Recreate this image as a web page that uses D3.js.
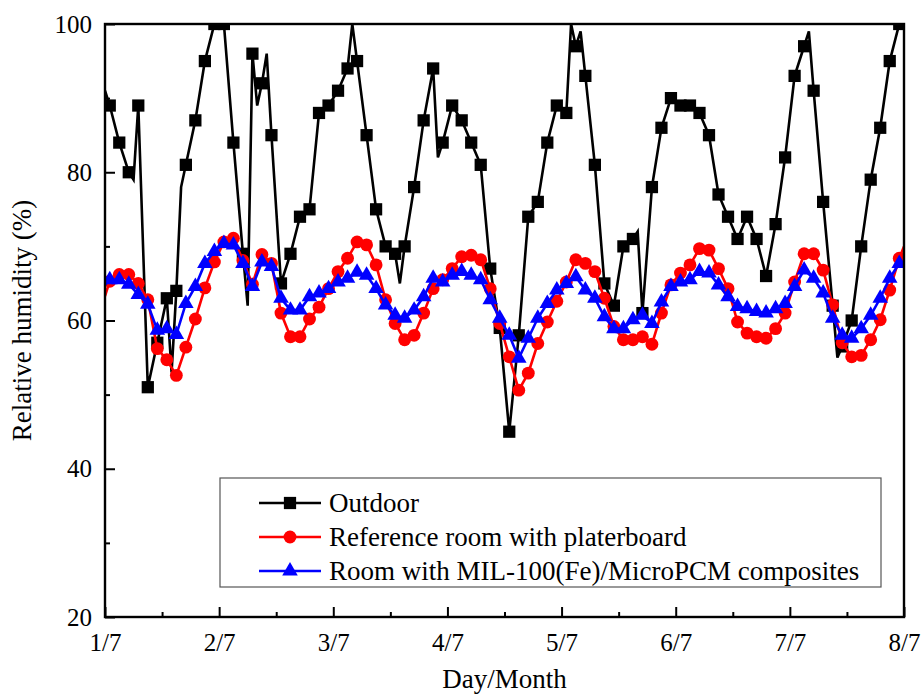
<!DOCTYPE html>
<html lang="en">
<head>
<meta charset="UTF-8">
<title>Relative humidity</title>
<script src="https://d3js.org/d3.v7.min.js"></script>
<style>
    body { margin: 0; background: #fff; }
    text { font-family: "Liberation Serif", "Times New Roman", serif; fill: #000; }
</style>
</head>
<body>
<svg id="main" width="921" height="695"></svg>
<script>
// x tick labels (one per day) and y ticks
let dayLabels = ['1/7', '2/7', '3/7', '4/7', '5/7', '6/7', '7/7', '8/7'];
let yMajor = [20, 40, 60, 80, 100];
let yMinor = [30, 50, 70, 90];

// readings every 2 h, at 1:00, 3:00, ... 23:00 of each day (12 per row)
let outdoorRH = [
    89, 84, 80, 89, 51, 57, 63, 64, 81, 87, 95, 100,
    100, 84, 69, 96, 92, 85, 65, 69, 74, 75, 88, 89,
    91, 94, 95, 85, 75, 70, 69, 70, 78, 87, 94, 84,
    89, 87, 84, 81, 67, 59, 45, 58, 74, 76, 84, 89,
    88, 97, 93, 81, 65, 62, 70, 71, 61, 78, 86, 90,
    89, 89, 88, 85, 77, 74, 71, 74, 71, 66, 73, 82,
    93, 97, 91, 76, 62, 56.5, 60, 70, 79, 86, 95, 100
];
let referenceRH = [
    65.3, 66.2, 66.2, 65, 62.8, 56.2, 54.7, 52.6, 56.4, 60.2, 64.4, 67.9,
    70.6, 71.1, 68.1, 64.9, 68.9, 67.7, 61, 57.8, 57.8, 60.2, 61.8, 64.3,
    66.6, 68.4, 70.6, 70.2, 67.5, 62.8, 59.6, 57.4, 58, 61, 64.3, 65.5,
    67, 68.6, 68.8, 68.2, 64.3, 59.6, 55.1, 50.6, 52.9, 56.9, 59.8, 62.6,
    65.2, 68.2, 67.7, 66.6, 63, 59.2, 57.4, 57.4, 57.8, 56.8, 61, 64.8,
    66.4, 67.5, 69.7, 69.5, 67, 64.3, 59.8, 58.3, 57.8, 57.6, 58.9, 61,
    65.2, 69, 69, 66.8, 62.1, 57, 55.1, 55.3, 57.4, 60.1, 64.1, 68.4
];
let compositeRH = [
    65.5, 65.5, 64.9, 63.5, 62.2, 58.7, 58.9, 58.1, 62.3, 64.6, 67.7, 69.3,
    70.4, 70.2, 67.7, 64.6, 67.9, 67.3, 63, 61.4, 61.4, 63.2, 63.7, 64.3,
    65.2, 65.7, 66.5, 66.1, 64.3, 62.1, 60.7, 60.3, 61.4, 63.2, 65.7, 65.2,
    66.1, 66.6, 66.1, 65.5, 62.8, 60.3, 58, 54.9, 57.6, 60.3, 62.3, 64.1,
    65, 65.9, 64.1, 63, 60.5, 58.9, 58.9, 60.1, 60.7, 59.6, 62.5, 64.6,
    65.2, 65.5, 66.6, 66.4, 64.8, 63.2, 61.9, 61.6, 61.2, 61, 61.6, 62.3,
    64.6, 66.8, 65.7, 63.7, 60.3, 58, 57.6, 58.9, 60.7, 63, 65.7, 67.7
];
// in-between readings (hour, value) that the lines pass through without a marker
let outdoorExtra = [[0, 91], [6, 79], [14, 53], [16, 78], [24, 100], [30, 62], [32, 89], [34, 96],
    [52, 100], [62, 65], [70, 82], [98, 100], [100, 99], [112, 72], [148, 99], [154, 55], [168, 100]];
let referenceExtra = [[0, 63.3], [168, 70]];
let compositeExtra = [[0, 64.8], [168, 67.7]];

let markerHours = d3.range(1, 168, 2);

let series = [
    {name: 'Outdoor', color: '#000000', shape: 'square', values: outdoorRH, extra: outdoorExtra},
    {name: 'Reference room with platerboard', color: '#ff0000', shape: 'circle', values: referenceRH, extra: referenceExtra},
    {name: 'Room with MIL-100(Fe)/MicroPCM composites', color: '#0000ff', shape: 'triangle', values: compositeRH, extra: compositeExtra}
];

let svg = d3.select('svg#main');
let plot = {left: 105, right: 904, top: 24, bottom: 617};

let xScale = d3.scaleLinear().domain([0, 168]).range([plot.left, plot.right]);
let yScale = d3.scaleLinear().domain([20, 100]).range([plot.bottom, plot.top]);

svg.append('defs').append('clipPath').attr('id', 'clip')
    .append('rect')
    .attr('x', plot.left).attr('y', plot.top)
    .attr('width', plot.right - plot.left).attr('height', plot.bottom - plot.top);

// axes
let xMajor = d3.axisBottom(xScale)
    .tickValues(d3.range(0, 169, 24))
    .tickFormat(function (d, i) { return dayLabels[i]; })
    .tickSize(-10).tickPadding(16);
let xMinor = d3.axisBottom(xScale)
    .tickValues(d3.range(12, 168, 24))
    .tickFormat('').tickSize(-5);
let yMajorAxis = d3.axisLeft(yScale)
    .tickValues(yMajor).tickSize(-10).tickPadding(13);
let yMinorAxis = d3.axisLeft(yScale)
    .tickValues(yMinor).tickFormat('').tickSize(-5);

[xMajor, xMinor].forEach(function (ax) {
    svg.append('g').attr('transform', 'translate(0,' + plot.bottom + ')').call(ax);
});
[yMajorAxis, yMinorAxis].forEach(function (ax) {
    svg.append('g').attr('transform', 'translate(' + plot.left + ',0)').call(ax);
});
svg.selectAll('.domain').remove();
svg.selectAll('.tick line').attr('stroke', '#000').attr('stroke-width', 2);
svg.selectAll('.tick text').style('font-size', '25px').attr('fill', '#000');

// lines
let line = d3.line()
    .x(function (d) { return xScale(d[0]); })
    .y(function (d) { return yScale(d[1]); });

function symbolFor(shape) {
    if (shape === 'square') return d3.symbol(d3.symbolSquare, 150)();
    if (shape === 'circle') return d3.symbol(d3.symbolCircle, 130)();
    return d3.symbol(d3.symbolTriangle, 105)();
}

let plotG = svg.append('g').attr('clip-path', 'url(#clip)');

series.forEach(function (s) {
    let markers = markerHours.map(function (h, i) { return [h, s.values[i]]; });
    let pts = markers.concat(s.extra).sort(function (a, b) { return a[0] - b[0]; });
    let g = plotG.append('g');
    g.append('path')
        .datum(pts)
        .attr('d', line)
        .attr('fill', 'none')
        .attr('stroke', s.color)
        .attr('stroke-width', 2.6)
        .attr('stroke-linejoin', 'miter');
    g.selectAll('path.mk')
        .data(markers)
        .enter()
        .append('path')
        .attr('class', 'mk')
        .attr('d', symbolFor(s.shape))
        .attr('transform', function (d) { return 'translate(' + xScale(d[0]) + ',' + yScale(d[1]) + ')'; })
        .attr('fill', s.color);
});

// frame
svg.append('rect')
    .attr('x', plot.left).attr('y', plot.top)
    .attr('width', plot.right - plot.left).attr('height', plot.bottom - plot.top)
    .attr('fill', 'none').attr('stroke', '#000').attr('stroke-width', 2.4);

// axis titles
svg.append('text')
    .attr('x', (plot.left + plot.right) / 2).attr('y', 688)
    .attr('text-anchor', 'middle')
    .style('font-size', '27px')
    .text('Day/Month');
svg.append('text')
    .attr('transform', 'translate(31,' + ((plot.top + plot.bottom) / 2) + ') rotate(-90)')
    .attr('text-anchor', 'middle')
    .style('font-size', '27px')
    .text('Relative humidity (%)');

// legend
let legend = svg.append('g');
legend.append('rect')
    .attr('x', 220).attr('y', 478).attr('width', 661).attr('height', 109)
    .attr('fill', '#fff').attr('stroke', '#555').attr('stroke-width', 1.2);
series.forEach(function (s, i) {
    let y = 503 + i * 34;
    legend.append('line')
        .attr('x1', 259).attr('x2', 321).attr('y1', y).attr('y2', y)
        .attr('stroke', s.color).attr('stroke-width', 2.6);
    legend.append('path')
        .attr('d', symbolFor(s.shape))
        .attr('transform', 'translate(290,' + y + ')')
        .attr('fill', s.color);
    legend.append('text')
        .attr('x', 329).attr('y', y).attr('dy', '0.35em')
        .style('font-size', '27px')
        .text(s.name);
});
</script>
</body>
</html>
